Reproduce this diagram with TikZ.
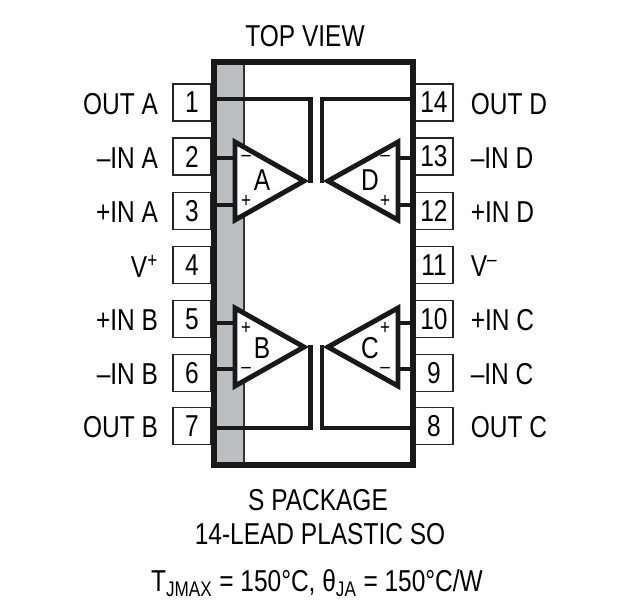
\documentclass[tikz,border=0pt]{standalone}
\usepackage{fontspec}
\setmainfont[FakeStretch=0.81]{Liberation Sans}
\usetikzlibrary{positioning}
\definecolor{chipgrey}{HTML}{BCBEC0}
\tikzset{
  pinbox/.style={draw=black!85,line width=0.9pt,minimum width=0.95cm,minimum height=0.925cm,inner sep=0pt,fill=white},
  pinname/.style={inner sep=0pt,yshift=-1pt},
  wire/.style={black!90,line width=3.5pt},
  opamp/.style={draw=black!90,fill=white,line width=3.5pt,miter limit=10},
  sign/.style={inner sep=0pt,font=\fontsize{15}{15}\selectfont}
}
\begin{document}
\begin{tikzpicture}[x=0.025cm,y=-0.025cm,font=\fontsize{21.5}{24}\selectfont]
\useasboundingbox (0,0) rectangle (620,612);
% pins, left side then right side
\foreach \n/\y/\t in {1/102.5/OUT A,2/156.5/--IN A,3/211/+IN A,4/265/V\textsuperscript{+},5/319/+IN B,6/373/--IN B,7/426/OUT B}{
  \node [pinbox] (p\n) at (192,\y) {\n};
  \node [pinname,left=10pt of p\n.west,anchor=east] (l\n) {\t};
}
\foreach \n/\y/\t in {14/102.5/OUT D,13/156.5/--IN D,12/211/+IN D,11/265/V\textsuperscript{--},10/319/+IN C,9/373/--IN C,8/426/OUT C}{
  \node [pinbox] (p\n) at (434,\y) {\n};
  \node [pinname,right=12pt of p\n.east,anchor=west] (l\n) {\t};
}
% package
\fill [chipgrey] (214,62) rectangle (244,465);
\draw [black!80,line width=0.8pt] (244,62) -- (244,465);
\draw [black!90,line width=4.4pt] (214,62) rectangle (413,465);
\node (top) at (305,36) {TOP VIEW};
\node (pack) at (318,500) {S PACKAGE};
\node (lead) at (320,534) {14-LEAD PLASTIC SO};
\node (theta) at (317,583) {T\textsubscript{JMAX} = 150°C, θ\textsubscript{JA} = 150°C/W};
% wire ends on the package
\coordinate (w1) at (214,99);
\coordinate (w2) at (214,158);
\coordinate (w3) at (214,205);
\coordinate (w5) at (214,323);
\coordinate (w6) at (214,369);
\coordinate (w7) at (214,428);
\coordinate (w14) at (413,99);
\coordinate (w13) at (413,158);
\coordinate (w12) at (413,205);
\coordinate (w10) at (413,323);
\coordinate (w9) at (413,369);
\coordinate (w8) at (413,428);
% op amp corners
\coordinate (aT) at (235,142);
\coordinate (aB) at (235,220);
\coordinate (aO) at (304,181);
\coordinate (aE) at (310.5,183);
\coordinate (dT) at (398,142);
\coordinate (dB) at (398,220);
\coordinate (dO) at (328,181);
\coordinate (dE) at (322,183);
\coordinate (bT) at (235,308);
\coordinate (bB) at (235,386);
\coordinate (bO) at (304,347);
\coordinate (bE) at (310.5,345);
\coordinate (cT) at (398,308);
\coordinate (cB) at (398,386);
\coordinate (cO) at (328,347);
\coordinate (cE) at (322,345);
% connections
\draw [wire] (w1) -| (aE);
\draw [wire] (w14) -| (dE);
\draw [wire] (w7) -| (bE);
\draw [wire] (w8) -| (cE);
\draw [wire] (w2) -- (w2 -| aT);
\draw [wire] (w3) -- (w3 -| aT);
\draw [wire] (w5) -- (w5 -| bT);
\draw [wire] (w6) -- (w6 -| bT);
\draw [wire] (w13) -- (w13 -| dT);
\draw [wire] (w12) -- (w12 -| dT);
\draw [wire] (w10) -- (w10 -| cT);
\draw [wire] (w9) -- (w9 -| cT);
% amplifiers
\foreach \a in {a,b,c,d}{
  \draw [opamp] (\a T) -- (\a B) -- (\a O) -- cycle;
}
\node [inner sep=0pt] (ampA) at (262,180) {A};
\node [inner sep=0pt] (ampB) at (262,348) {B};
\node [inner sep=0pt] (ampC) at (370,348) {C};
\node [inner sep=0pt] (ampD) at (370,180) {D};
\node [sign] (am) at (246,158) {--};
\node [sign] (ap) at (246,201) {+};
\node [sign] (bp) at (246,328) {+};
\node [sign] (bm) at (246,370) {--};
\node [sign] (dm) at (385,158) {--};
\node [sign] (dp) at (385,201) {+};
\node [sign] (cp) at (385,328) {+};
\node [sign] (cm) at (385,370) {--};
\end{tikzpicture}
\end{document}
